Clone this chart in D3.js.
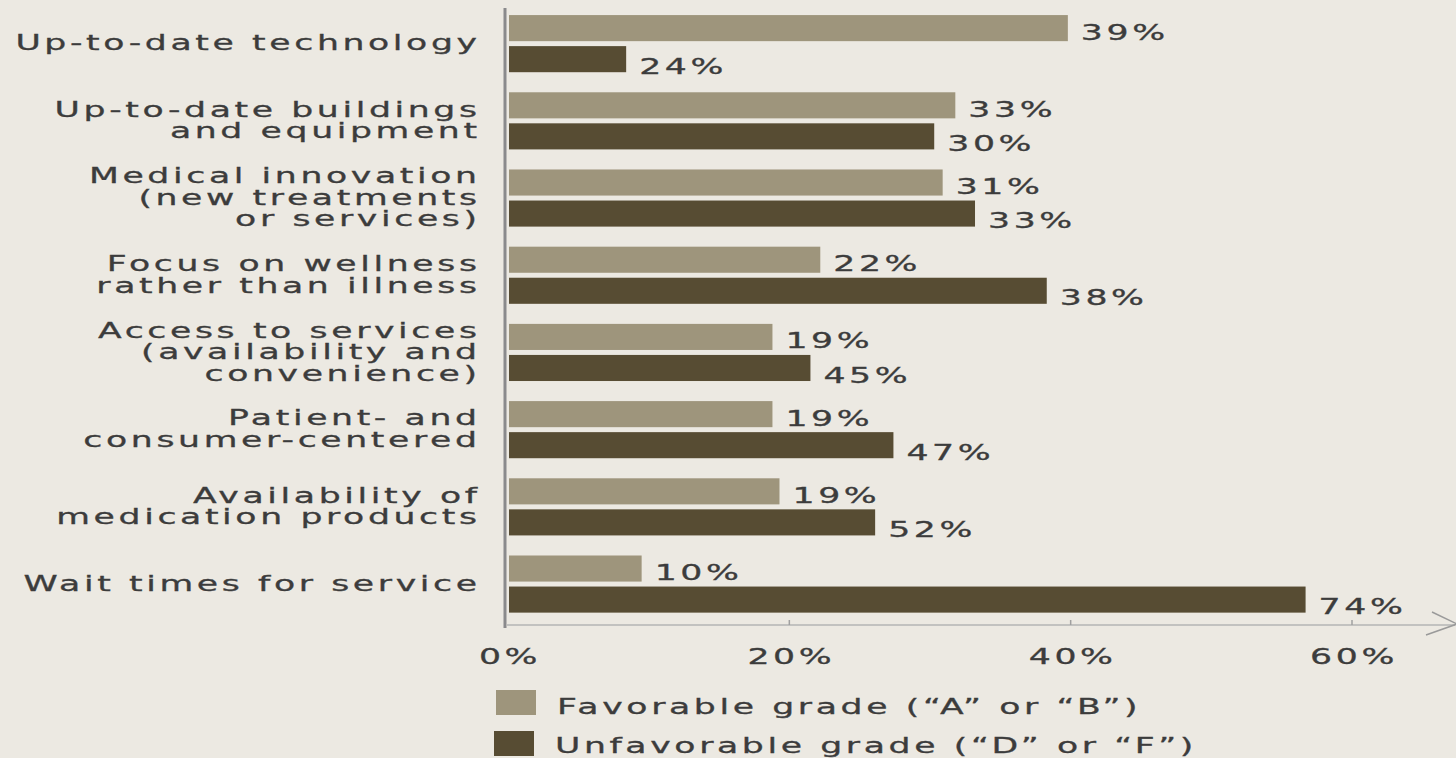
<!DOCTYPE html>
<html>
<head>
<meta charset="utf-8">
<script src="https://cdn.jsdelivr.net/npm/d3@7"></script>
<style>
html,body{margin:0;padding:0;background:#ece9e2;}
svg{display:block;}
text{font-family:"DejaVu Sans",sans-serif;fill:#3c3c3c;stroke:#3c3c3c;stroke-width:0.3px;}
</style>
</head>
<body>
<svg id="chart" width="1456" height="758"></svg>
<script>
const categories = [
  ["Up-to-date technology"],
  ["Up-to-date buildings", "and equipment"],
  ["Medical innovation", "(new treatments", "or services)"],
  ["Focus on wellness", "rather than illness"],
  ["Access to services", "(availability and", "convenience)"],
  ["Patient- and", "consumer-centered"],
  ["Availability of", "medication products"],
  ["Wait times for service"]
];
// bar lengths as drawn in the picture (percent on the axis)
const favorableBar   = [39.8, 31.8, 30.9, 22.2, 18.8, 18.8, 19.3, 9.5];
const unfavorableBar = [8.4, 30.3, 33.2, 38.3, 21.5, 27.4, 26.1, 56.7];
// value labels as printed
const favorableLabel   = ["39%", "33%", "31%", "22%", "19%", "19%", "19%", "10%"];
const unfavorableLabel = ["24%", "30%", "33%", "38%", "45%", "47%", "52%", "74%"];
const tickValues = [0, 20, 40, 60];
const seriesNames = ["Favorable grade (\u201CA\u201D or \u201CB\u201D)", "Unfavorable grade (\u201CD\u201D or \u201CF\u201D)"];
const colors = ["#9e957c", "#574c33"];

const SX = 1.65, FS = 21, LS = 2.2;
const svg = d3.select("#chart");
svg.append("rect").attr("width", 1456).attr("height", 758).attr("fill", "#ece9e2");

const x = d3.scaleLinear().domain([0, 60]).range([508, 1352]);
const y = d3.scaleBand().domain(d3.range(categories.length)).range([-5, 632.7]).paddingInner(0.26).paddingOuter(0.26);
const sub = d3.scaleBand().domain([0, 1]).range([0, y.bandwidth()]).paddingInner(0.16);

function stretchedText(g, tx, ty, str, anchor) {
  const gg = g.append("g").attr("transform", `translate(${tx},${ty}) scale(${SX},1)`);
  gg.append("text").attr("x", 0).attr("y", 0)
    .attr("dy", "0.36em")
    .attr("text-anchor", anchor || "start")
    .style("font-size", FS + "px")
    .style("letter-spacing", LS + "px")
    .text(str);
  return gg;
}

const rows = svg.append("g");
categories.forEach((lines, i) => {
  const b = y(i);
  const vals = [favorableBar[i], unfavorableBar[i]];
  const labs = [favorableLabel[i], unfavorableLabel[i]];
  vals.forEach((v, s) => {
    const yy = b + sub(s);
    rows.append("rect")
      .attr("x", x(0) + 1).attr("y", yy)
      .attr("width", x(v) - x(0) - 1).attr("height", sub.bandwidth())
      .attr("fill", colors[s]);
    stretchedText(rows, x(v) + 13, yy + sub.bandwidth() / 2 + (s === 0 ? 4 : 7), labs[s], "start");
  });
  const cy = b + y.bandwidth() / 2;
  const lh = 21.5;
  lines.forEach((ln, k) => {
    const ly = cy + (k - (lines.length - 1) / 2) * lh - 1;
    stretchedText(rows, 477 + LS * SX, ly, ln, "end");
  });
});

// vertical axis line
svg.append("line").attr("x1", 505).attr("x2", 505).attr("y1", 8).attr("y2", 628)
  .attr("stroke", "#8a8a8c").attr("stroke-width", 3);

// horizontal axis
const axisY = 625;
svg.append("line").attr("x1", 507).attr("x2", 1455).attr("y1", axisY).attr("y2", axisY)
  .attr("stroke", "#b4b4b4").attr("stroke-width", 1.6);
svg.append("polyline").attr("points", `1432,612 1457,624 1426,635`)
  .attr("fill", "none").attr("stroke", "#9a9a9a").attr("stroke-width", 1.5);
tickValues.forEach(t => {
  if (t > 0) {
    svg.append("line").attr("x1", x(t)).attr("x2", x(t)).attr("y1", axisY).attr("y2", axisY - 5)
      .attr("stroke", "#a0a0a0").attr("stroke-width", 1.5);
  }
  stretchedText(svg, x(t) + 2, 656, t + "%", "middle");
});

// legend
const legend = svg.append("g");
[[496, 690, 557, 706], [494, 731, 555, 745]].forEach((p, s) => {
  legend.append("rect").attr("x", p[0]).attr("y", p[1]).attr("width", 40).attr("height", 25).attr("fill", colors[s]);
  stretchedText(legend, p[2], p[3], seriesNames[s], "start");
});
</script>
</body>
</html>
